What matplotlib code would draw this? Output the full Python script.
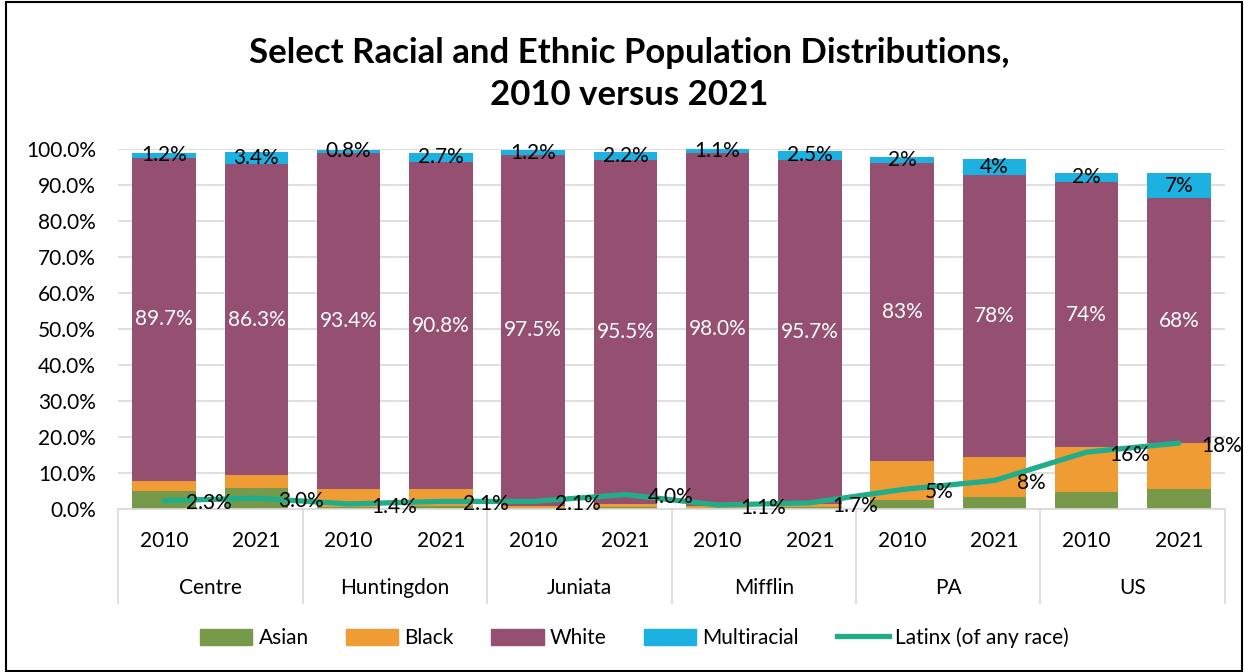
import matplotlib
matplotlib.use("Agg")
import matplotlib.pyplot as plt
from matplotlib.patches import Patch, Rectangle
from matplotlib.lines import Line2D
import numpy as np

plt.rcParams['font.family'] = ['Lato', 'DejaVu Sans']

# data (percent)
counties = ['Centre', 'Huntingdon', 'Juniata', 'Mifflin', 'PA', 'US']
years = ['2010', '2021']
asian = [5.1, 5.9, 0.5, 0.9, 0.4, 0.5, 0.4, 0.5, 2.5, 3.4, 4.6, 5.5]
black = [2.8, 3.5, 5.1, 4.6, 0.5, 1.0, 0.5, 0.8, 10.7, 11.0, 12.5, 12.7]
white = [89.7, 86.3, 93.4, 90.8, 97.5, 95.5, 98.0, 95.7, 82.8, 78.4, 73.8, 68.3]
multi = [1.2, 3.4, 0.8, 2.7, 1.2, 2.2, 1.1, 2.5, 1.7, 4.3, 2.4, 6.7]
latinx = [2.3, 3.0, 1.4, 2.1, 2.1, 4.0, 1.1, 1.7, 5.4, 7.9, 15.8, 18.3]
# decimals shown in labels per bar (counties 1, PA/US 0)
decimals = [1, 1, 1, 1, 1, 1, 1, 1, 0, 0, 0, 0]

c_asian = '#76994a'
c_black = '#f09c34'
c_white = '#944f71'
c_multi = '#1cb1e0'
c_latinx = '#22ad8a'

fs = 15

fig = plt.figure(figsize=(12.44, 6.72), dpi=100)
ax = fig.add_axes([0.0949, 0.2426, 0.8898, 0.5357])

x = np.arange(len(asian))
w = 0.69
a = np.array(asian)
b = np.array(black)
wh = np.array(white)
m = np.array(multi)

ax.bar(x, a, w, color=c_asian, zorder=2)
ax.bar(x, b, w, bottom=a, color=c_black, zorder=2)
ax.bar(x, wh, w, bottom=a + b, color=c_white, zorder=2)
ax.bar(x, m, w, bottom=a + b + wh, color=c_multi, zorder=2)
ax.plot(x, latinx, color=c_latinx, lw=3.8, solid_capstyle='round', zorder=3)

for i in range(len(x)):
    d = decimals[i]
    ax.text(x[i], a[i] + b[i] + wh[i] / 2, f'{wh[i]:.{d}f}%', ha='center', va='center',
            color='white', fontsize=fs, zorder=4)
    ax.text(x[i], a[i] + b[i] + wh[i] + m[i] / 2, f'{m[i]:.{d}f}%', ha='center', va='center',
            color='black', fontsize=fs, zorder=4)
    ax.annotate(f'{latinx[i]:.{d}f}%', (x[i], latinx[i]), xytext=(16, -2),
                textcoords='offset points', ha='left', va='center', fontsize=fs, zorder=4)

ax.set_xlim(-0.5, len(x) - 0.5)
ax.set_ylim(0, 100)
ax.set_yticks(np.arange(0, 101, 10))
ax.set_yticklabels([f'{v:.1f}%' for v in np.arange(0, 101, 10)])
ax.yaxis.grid(True, color='#d9d9d9', lw=1.2, zorder=0)
ax.set_axisbelow(True)
for s in ['top', 'right', 'left']:
    ax.spines[s].set_visible(False)
ax.spines['bottom'].set_color('#d9d9d9')
ax.spines['bottom'].set_linewidth(1.2)
ax.set_xticks(x)
ax.set_xticklabels(years * len(counties))
ax.tick_params(axis='both', length=0, labelsize=fs)
ax.tick_params(axis='x', pad=16)
ax.tick_params(axis='y', pad=16)

trans = ax.get_xaxis_transform()
for k, c in enumerate(counties):
    ax.text(2 * k + 0.5, -0.22, c, transform=trans, ha='center', va='center', fontsize=fs)
for k in range(len(counties) + 1):
    ax.plot([2 * k - 0.5, 2 * k - 0.5], [0, -0.262], transform=trans, color='#d9d9d9',
            lw=1.2, clip_on=False)

fig.text(0.5056, 0.89, 'Select Racial and Ethnic Population Distributions,\n2010 versus 2021',
         ha='center', va='center', fontsize=25, fontweight='bold', linespacing=1.38)

handles = [Patch(color=c_asian, label='Asian'), Patch(color=c_black, label='Black'),
           Patch(color=c_white, label='White'), Patch(color=c_multi, label='Multiracial'),
           Line2D([], [], color=c_latinx, lw=3.8, label='Latinx (of any race)')]
fig.legend(handles=handles, loc='center', bbox_to_anchor=(0.51, 0.051), ncol=5,
           frameon=False, fontsize=fs, handlelength=2.5, handleheight=0.8,
           columnspacing=1.8, handletextpad=0.3)

fig.patches.append(Rectangle((0.005, 0.002), 0.993, 0.995, transform=fig.transFigure,
                             fill=False, edgecolor='black', lw=1.5))

fig.savefig('out.png', dpi=100)
